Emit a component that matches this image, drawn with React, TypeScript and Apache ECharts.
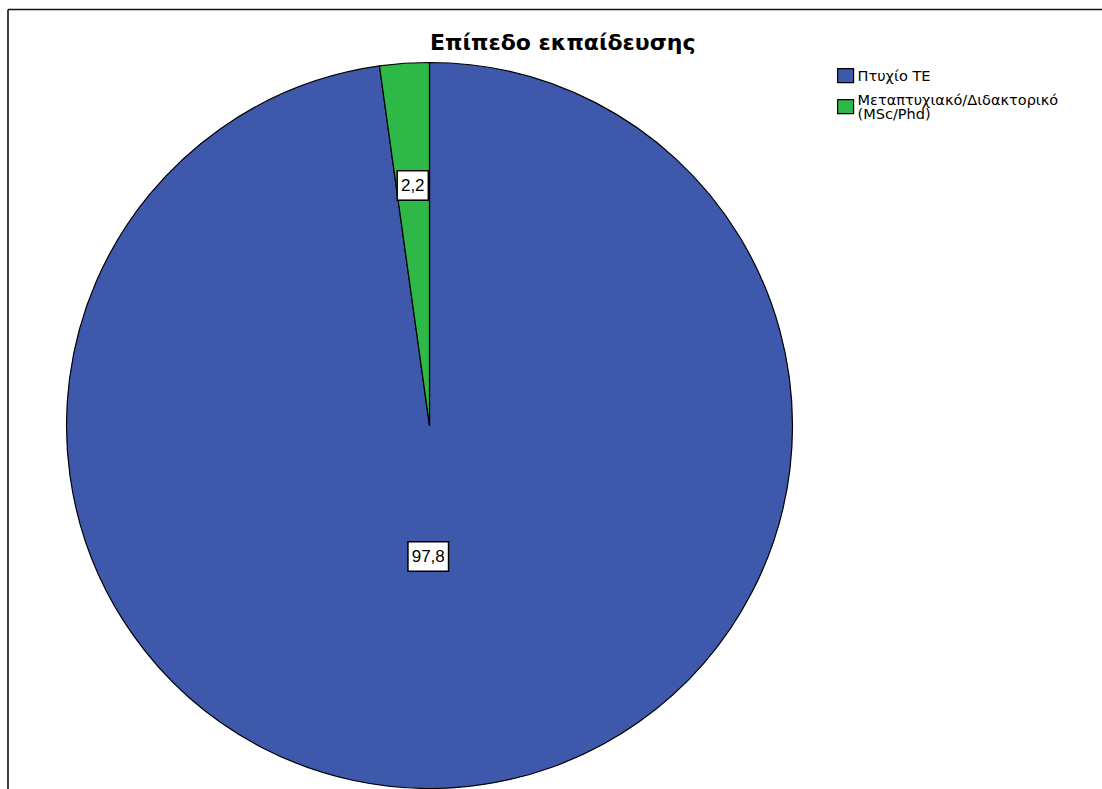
import React, { useEffect, useRef } from "react";
import * as echarts from "echarts";

// Education level distribution (percent)
const categories = ["Πτυχίο ΤΕ", "Μεταπτυχιακό/Διδακτορικό\n(MSc/Phd)"];
const percentages = [97.8, 2.2];
const sliceColors = ["#3E58AC", "#2EB848"];
const chartTitle = "Επίπεδο εκπαίδευσης";

const FONT = "'Liberation Sans', Arial, sans-serif";
const WIDE_FONT = "'DejaVu Sans', 'Liberation Sans', Arial, sans-serif";

export default function App() {
  const ref = useRef<HTMLDivElement>(null);

  useEffect(() => {
    if (!ref.current) return;
    const chart = echarts.init(ref.current, undefined, { renderer: "svg" });

    const labelOffsets: [number, number][] = [
      [-14, -53],
      [-4, -56],
    ];

    chart.setOption({
      animation: false,
      backgroundColor: "#ffffff",
      title: {
        text: chartTitle,
        left: 430,
        top: 31,
        padding: 0,
        textStyle: {
          fontFamily: WIDE_FONT,
          fontWeight: "bold",
          fontSize: 22,
          color: "#000000",
        },
      },
      legend: {
        orient: "vertical",
        left: 837,
        top: 68,
        padding: 0,
        itemGap: 9,
        itemWidth: 16,
        itemHeight: 14,
        icon: "rect",
        selectedMode: false,
        itemStyle: { borderColor: "#000000", borderWidth: 1.2 },
        textStyle: {
          fontFamily: WIDE_FONT,
          fontSize: 14.5,
          lineHeight: 14,
          color: "#000000",
          padding: [0, 0, 0, -1],
        },
        data: categories,
      },
      graphic: [
        {
          type: "line",
          shape: { x1: 8, y1: 9.5, x2: 1102, y2: 9.5 },
          style: { stroke: "#111111", lineWidth: 1.6 },
        },
        {
          type: "line",
          shape: { x1: 8, y1: 9.5, x2: 8, y2: 789 },
          style: { stroke: "#111111", lineWidth: 1.6 },
        },
      ],
      series: [
        {
          type: "pie",
          center: [429.5, 425.5],
          radius: [0, 363],
          startAngle: 90,
          clockwise: true,
          avoidLabelOverlap: false,
          emphasis: { disabled: true },
          itemStyle: { borderColor: "#000000", borderWidth: 1.2 },
          labelLine: { show: false },
          label: {
            show: true,
            position: "inside",
            fontFamily: FONT,
            fontSize: 17,
            lineHeight: 17,
            color: "#000000",
            backgroundColor: "#ffffff",
            borderColor: "#000000",
            borderWidth: 1.5,
            padding: [6, 3, 5, 3],
            formatter: (p: any) => String(p.value).replace(".", ","),
          },
          data: categories.map((name, i) => ({
            name,
            value: percentages[i],
            itemStyle: { color: sliceColors[i] },
            label: { offset: labelOffsets[i] },
          })),
        },
      ],
    });

    return () => chart.dispose();
  }, []);

  return (
    <div
      ref={ref}
      style={{ position: "fixed", left: 0, top: 0, width: 1102, height: 789 }}
    />
  );
}
